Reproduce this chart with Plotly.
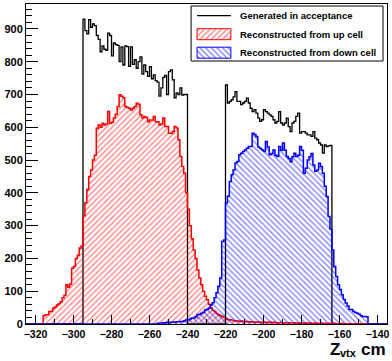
import plotly.graph_objects as go

# ---- histogram binning (cm) ----
X_MIN = -325
X_MAX = -135
BIN_W = 1

# ---- Generated in acceptance (two blocks) ----
gen_a_start = -295
gen_a = [930, 895, 885, 928, 905, 915, 910, 880, 868, 830,
         848, 838, 835, 887, 880, 818, 857, 852, 850, 800,
         845, 790, 848, 846, 786, 845, 792, 806, 780, 800,
         815, 762, 790, 770, 755, 785, 748, 760, 742, 738,
         695, 720, 752, 758, 700, 770, 775, 745, 690, 705,
         700, 720, 698, 700, 700]
gen_b_start = -220
gen_b = [729, 674, 679, 684, 693, 709, 679, 679, 669, 674,
         679, 689, 674, 658, 648, 654, 643, 628, 618, 623,
         654, 648, 643, 638, 633, 623, 613, 618, 648, 613,
         607, 613, 628, 602, 587, 613, 618, 633, 643, 582,
         587, 587, 582, 577, 577, 572, 587, 567, 562, 552,
         546, 521, 546, 541, 543, 545]

# ---- Reconstructed from up cell ----
up_start = -316
up_vals = [25, 28, 28, 38, 38, 48, 52, 58, 62, 68,
           80, 88, 120, 112, 122, 170, 175, 200, 210, 232,
           238, 330, 370, 410, 450, 470, 500, 515, 597, 607,
           600, 612, 607, 610, 648, 612, 615, 628, 640, 663,
           699, 695, 690, 663, 660, 658, 653, 658, 663, 673,
           670, 638, 628, 633, 630, 617, 622, 622, 633, 617,
           617, 607, 610, 628, 602, 602, 582, 582, 587, 602,
           598, 562, 511, 480, 460, 400, 350, 300, 260, 226,
           200, 165, 140, 120, 100, 85, 74, 60, 49, 42,
           38, 32, 28, 25, 23, 20, 16, 13, 13, 12,
           10, 10,
           9, 8, 9, 8, 7, 8, 6, 7, 6, 5,
           6, 5, 6, 4, 5, 5, 4, 6, 4, 5,
           4, 3, 4, 5, 3, 4, 3, 4, 3, 3,
           4, 3, 2, 3, 3, 2, 3, 2, 3, 2,
           2, 3, 2, 2, 1, 2, 2, 1, 2, 1,
           1, 2, 1, 1, 1, 2, 1, 1, 0, 1,
           1, 0, 1, 1, 0, 1, 0, 0, 0]

# ---- Reconstructed from down cell ----
down_start = -256
down_vals = [2, 3, 3, 4, 3, 5, 4, 5, 6, 5, 7, 7,
             8, 8, 10, 12, 13, 15, 18, 18, 22, 28, 30, 33, 36, 43, 45, 48, 58, 65, 80, 95, 115, 140,
             252, 256, 369, 390, 435, 455, 470,
             491, 496, 516, 521, 526, 531, 536, 541, 541, 582, 578, 572, 540, 535, 531, 526, 557,
             540, 516, 520, 531, 515, 511, 541, 530, 552, 530,
             511, 505, 495, 510, 521, 511, 515, 541, 530, 460, 475, 500, 510, 520, 485, 466, 470,
             490, 480, 460, 420, 389, 328, 290,
             226, 175, 145, 120, 105, 89, 75, 64, 55, 44, 44, 38, 35, 33, 30, 25, 23, 23, 22]

labels = ["Generated in acceptance", "Reconstructed from up cell", "Reconstructed from down cell"]
colors = ["black", "#ff0000", "#0000ff"]
patterns = [None, "/", "\\"]
Y_MAX = 976

# plot-area size in px (for the hand-drawn legend overlay)
PW, PH = 363, 320
LEG_BOX = (166, 359, 2, 57)          # x0, x1, y0, y1 in px from plot top-left
LEG_SYM = (172, 206)                 # symbol x-span
LEG_ROWS = [11.7, 30.2, 48.7]        # row centres
LEG_TXT_X = 213
SW_H = 11                            # swatch height


def full_hist(blocks):
    n = int((X_MAX - X_MIN) / BIN_W)
    vals = [0] * n
    for start, arr in blocks:
        i0 = int(round((start - X_MIN) / BIN_W))
        for k, v in enumerate(arr):
            vals[i0 + k] = v
    edges = [X_MIN + i * BIN_W for i in range(n + 1)]
    xs = [edges[0]] + edges[:-1] + [edges[-1]]
    ys = [0] + vals + [0]
    return xs, ys


def pat(shape, color):
    return dict(shape=shape, fgcolor=color, bgcolor="rgba(0,0,0,0)", size=4.0, solidity=0.33)


fig = go.Figure()

gx, gy = full_hist([(gen_a_start, gen_a), (gen_b_start, gen_b)])
ux, uy = full_hist([(up_start, up_vals)])
dx, dy = full_hist([(down_start, down_vals)])

fig.add_trace(go.Scatter(x=gx, y=gy, mode="lines", line=dict(color=colors[0], width=1.3, shape="hv"),
                         name=labels[0], showlegend=False, hoverinfo="skip"))
fig.add_trace(go.Scatter(x=ux, y=uy, mode="lines", line=dict(color=colors[1], width=1.5, shape="hv"),
                         fill="tozeroy", fillcolor="rgba(0,0,0,0)", fillpattern=pat(patterns[1], colors[1]),
                         name=labels[1], showlegend=False, hoverinfo="skip"))
fig.add_trace(go.Scatter(x=dx, y=dy, mode="lines", line=dict(color=colors[2], width=1.5, shape="hv"),
                         fill="tozeroy", fillcolor="rgba(0,0,0,0)", fillpattern=pat(patterns[2], colors[2]),
                         name=labels[2], showlegend=False, hoverinfo="skip"))

bold = dict(family="Liberation Sans, Arial, sans-serif", color="black", weight="bold")

# ---- legend drawn on an overlay pixel axis ----
shapes = [dict(type="rect", xref="x2", yref="y2", x0=LEG_BOX[0], x1=LEG_BOX[1], y0=LEG_BOX[2], y1=LEG_BOX[3],
               line=dict(color="black", width=1), fillcolor="white", layer="below")]
annotations = []
for i, (lab, col, pt) in enumerate(zip(labels, colors, patterns)):
    yc = LEG_ROWS[i]
    if pt is None:
        fig.add_trace(go.Scatter(x=[LEG_SYM[0], LEG_SYM[1]], y=[yc, yc], mode="lines",
                                 line=dict(color=col, width=1.3), xaxis="x2", yaxis="y2",
                                 showlegend=False, hoverinfo="skip"))
    else:
        y0, y1 = yc - SW_H / 2, yc + SW_H / 2
        fig.add_trace(go.Scatter(x=[LEG_SYM[0], LEG_SYM[1], LEG_SYM[1], LEG_SYM[0], LEG_SYM[0]],
                                 y=[y0, y0, y1, y1, y0], mode="lines", fill="toself",
                                 fillcolor="rgba(0,0,0,0)", fillpattern=pat(pt, col),
                                 line=dict(color=col, width=1), xaxis="x2", yaxis="y2",
                                 showlegend=False, hoverinfo="skip"))
    annotations.append(dict(text=lab, xref="x2", yref="y2", x=LEG_TXT_X, y=yc, xanchor="left",
                            yanchor="middle", showarrow=False, font=dict(size=9.5, **bold)))

# ---- axis title "Z_vtx cm" placed at the bottom-right, in pieces ----
TITLE_Y = -0.047        # top of the big-letter boxes (paper units)
SUB_Y = -0.069
annotations += [
    dict(text="Z", xref="paper", yref="paper", x=0.838, y=TITLE_Y, xanchor="left", yanchor="top",
         showarrow=False, font=dict(size=17, **bold), borderpad=0),
    dict(text="vtx", xref="paper", yref="paper", x=0.868, y=SUB_Y, xanchor="left", yanchor="top",
         showarrow=False, font=dict(size=11, **bold), borderpad=0),
    dict(text="cm", xref="paper", yref="paper", x=1.0, y=TITLE_Y, xanchor="right", yanchor="top",
         showarrow=False, font=dict(size=17, **bold), borderpad=0),
]

fig.update_layout(
    width=392, height=361,
    margin=dict(l=26, r=3, t=4, b=37),
    paper_bgcolor="white", plot_bgcolor="white",
    showlegend=False,
    xaxis=dict(range=[X_MIN, X_MAX], tick0=-320, dtick=20, ticks="inside", ticklen=9,
               tickwidth=1, tickcolor="black", showline=True, mirror=True, linecolor="black",
               linewidth=1, showgrid=False, zeroline=False, tickfont=dict(size=10.5, **bold),
               minor=dict(ticks="inside", ticklen=5, dtick=10, tickcolor="black", showgrid=False)),
    yaxis=dict(range=[0, Y_MAX], tick0=0, dtick=100, ticks="inside", ticklen=12,
               tickwidth=1, tickcolor="black", showline=True, mirror=True, linecolor="black",
               linewidth=1, showgrid=False, zeroline=False, tickfont=dict(size=11, **bold),
               minor=dict(ticks="inside", ticklen=6, dtick=20, tickcolor="black", showgrid=False)),
    xaxis2=dict(range=[0, PW], overlaying="x", visible=False, fixedrange=True),
    yaxis2=dict(range=[PH, 0], overlaying="y", visible=False, fixedrange=True),
    shapes=shapes,
    annotations=annotations,
)

fig.write_html("out.html")
